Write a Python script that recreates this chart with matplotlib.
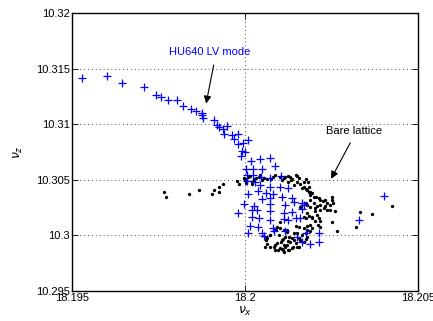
import matplotlib
matplotlib.use('Agg')
import matplotlib.pyplot as plt

plt.rcParams['font.family'] = ['Liberation Sans', 'DejaVu Sans']
plt.rcParams['mathtext.fontset'] = 'dejavusans'

# tunes with the HU640 undulator in LV mode (blue crosses)
hu640_nux = [18.19530, 18.19600, 18.19645, 18.19707, 18.19742, 18.19757, 18.19777, 18.19803,
             18.19820, 18.19844, 18.19859, 18.19875, 18.19877, 18.19880, 18.19909, 18.19919,
             18.19926, 18.19935, 18.19948, 18.19940, 18.19962, 18.19980, 18.19967, 18.19981,
             18.19994, 18.20009, 18.19991, 18.20001, 18.19989,
             18.20018, 18.20042, 18.20071, 18.20003, 18.20024, 18.20050, 18.20088, 18.20006,
             18.20022, 18.20047, 18.20071, 18.20105, 18.20006, 18.20028, 18.20044, 18.20073,
             18.20102, 18.20123, 18.20009, 18.20037, 18.20062, 18.20081, 18.20107, 18.20136,
             18.20050, 18.20071, 18.19996, 18.20025, 18.20073, 18.20117, 18.20141, 18.20165,
             18.20170, 18.19981, 18.20020, 18.20034, 18.20073, 18.20114, 18.20136, 18.20165,
             18.20020, 18.20041, 18.20073, 18.20112, 18.20123, 18.20146, 18.20160, 18.20015,
             18.20037, 18.20082, 18.20085, 18.20117, 18.20010, 18.20050, 18.20054, 18.20175,
             18.20213, 18.20151, 18.20189, 18.20213, 18.20165, 18.20402, 18.20329]
hu640_nuz = [10.31415, 10.31430, 10.31370, 10.31334, 10.31260, 10.31244, 10.31215, 10.31215,
             10.31167, 10.31140, 10.31119, 10.31101, 10.31080, 10.31059, 10.31041, 10.30990,
             10.30975, 10.30960, 10.30981, 10.30916, 10.30900, 10.30909, 10.30871, 10.30826,
             10.30831, 10.30855, 10.30759, 10.30750, 10.30712,
             10.30671, 10.30685, 10.30694, 10.30599, 10.30601, 10.30599, 10.30622, 10.30541,
             10.30545, 10.30529, 10.30514, 10.30532, 10.30487, 10.30482, 10.30451, 10.30437,
             10.30436, 10.30428, 10.30375, 10.30397, 10.30382, 10.30375, 10.30346, 10.30332,
             10.30330, 10.30332, 10.30280, 10.30267, 10.30280, 10.30271, 10.30301, 10.30287,
             10.30271, 10.30204, 10.30226, 10.30226, 10.30217, 10.30197, 10.30211, 10.30235,
             10.30164, 10.30152, 10.30141, 10.30143, 10.30137, 10.30152, 10.30157, 10.30083,
             10.30076, 10.30069, 10.30042, 10.30038, 10.30022, 10.30017, 10.29997, 10.30022,
             10.30022, 10.29986, 10.29925, 10.29942, 10.29942, 10.30355, 10.30137]

# bare lattice tunes (black dots)
bare_nux = [18.19766, 18.19773, 18.19838, 18.19867, 18.19904, 18.19909, 18.19925, 18.19925,
            18.19935, 18.19976, 18.19984, 18.19996, 18.20010, 18.20020, 18.20027, 18.20015,
            18.20025, 18.20020, 18.20039, 18.20044, 18.20054, 18.20063, 18.20075, 18.20088,
            18.20100, 18.20112, 18.20107, 18.20123, 18.20131, 18.20133, 18.20146, 18.20155,
            18.20150, 18.20160, 18.20170, 18.20177, 18.20182, 18.20186, 18.20179, 18.20170,
            18.20189, 18.20194, 18.20184, 18.20199, 18.20205, 18.20213, 18.20218, 18.20225,
            18.20232, 18.20237, 18.20247, 18.20252, 18.20252, 18.20254, 18.20261, 18.20230,
            18.20237, 18.20218, 18.20208, 18.20203, 18.20208, 18.20213, 18.20218, 18.20203,
            18.20211, 18.20247, 18.20252, 18.20228, 18.20184, 18.20175, 18.20160, 18.20175,
            18.20189, 18.20179, 18.20194, 18.20170, 18.20170, 18.20179, 18.20189, 18.20179,
            18.20216, 18.20155, 18.20146, 18.20266, 18.20175, 18.20150, 18.20141, 18.20121,
            18.20121, 18.20155, 18.20141, 18.20131, 18.20121, 18.20136, 18.20155, 18.20170,
            18.20146, 18.20126, 18.20179, 18.20117, 18.20110, 18.20105, 18.20124, 18.20136,
            18.20160, 18.20150, 18.20139, 18.20123, 18.20110, 18.20094, 18.20088, 18.20073,
            18.20063, 18.20061, 18.20059, 18.20071, 18.20083, 18.20092, 18.20102, 18.20097,
            18.20107, 18.20092, 18.20083, 18.20102, 18.20117, 18.20059, 18.20088, 18.20112,
            18.20126, 18.20063, 18.20073, 18.20090, 18.20102, 18.20112,
            18.20332, 18.20320, 18.20366, 18.20424,
            18.20000, 18.20032, 18.20050, 18.20082, 18.20117, 18.20137, 18.20151, 18.20125,
            18.20143, 18.20003, 18.20165, 18.20175, 18.20189, 18.20189, 18.20199, 18.20179,
            18.20203, 18.20218, 18.20194, 18.20187, 18.20194, 18.20165, 18.20175, 18.20107,
            18.20112]
bare_nuz = [10.30391, 10.30346, 10.30368, 10.30412, 10.30368, 10.30406, 10.30391, 10.30436,
            10.30466, 10.30490, 10.30465, 10.30514, 10.30529, 10.30484, 10.30499, 10.30537,
            10.30510, 10.30466, 10.30526, 10.30544, 10.30520, 10.30511, 10.30511, 10.30544,
            10.30529, 10.30514, 10.30499, 10.30538, 10.30529, 10.30502, 10.30544, 10.30520,
            10.30481, 10.30466, 10.30484, 10.30508, 10.30478, 10.30439, 10.30409, 10.30436,
            10.30394, 10.30379, 10.30391, 10.30349, 10.30341, 10.30334, 10.30319, 10.30305,
            10.30314, 10.30289, 10.30274, 10.30319, 10.30349, 10.30287, 10.30215, 10.30260,
            10.30229, 10.30229, 10.30260, 10.30215, 10.30184, 10.30154, 10.30125, 10.30125,
            10.30094, 10.30226, 10.30121, 10.30242, 10.30170, 10.30154, 10.30256, 10.30287,
            10.30256, 10.30197, 10.30166, 10.30166, 10.30065, 10.30049, 10.30035, 10.30083,
            10.30076, 10.30076, 10.30080, 10.30035, 10.30020, 10.30020, 10.30017, 10.30049,
            10.30031, 10.29975, 10.29959, 10.29945, 10.29914, 10.29885, 10.29894, 10.29945,
            10.29930, 10.29990, 10.29990, 10.29986, 10.29972, 10.29941, 10.29950, 10.29981,
            10.29957, 10.29896, 10.29896, 10.29873, 10.29867, 10.29873, 10.29912, 10.29896,
            10.29927, 10.29957, 10.29986, 10.30002, 10.30047, 10.30076, 10.30121, 10.30004,
            10.29959, 10.29930, 10.29900, 10.29885, 10.29900, 10.29900, 10.29869, 10.29855,
            10.29869, 10.29975, 10.30004, 10.30049, 10.30065, 10.30049,
            10.30206, 10.30071, 10.30190, 10.30265,
            10.30510, 10.30519, 10.30496, 10.30529, 10.30523, 10.30511, 10.30532, 10.30478,
            10.30451, 10.30469, 10.30427, 10.30421, 10.30361, 10.30316, 10.30287, 10.30271,
            10.30242, 10.30271, 10.30152, 10.30091, 10.30062, 10.30002, 10.29972, 10.29882,
            10.29912]

xticks = [18.195, 18.2, 18.205]
xticklabels = ['18.195', '18.2', '18.205']
yticks = [10.295, 10.3, 10.305, 10.31, 10.315, 10.32]
yticklabels = ['10.295', '10.3', '10.305', '10.31', '10.315', '10.32']

fig = plt.figure(figsize=(4.33, 3.21), dpi=100)
ax = fig.add_axes([0.1663, 0.0935, 0.7991, 0.866])

ax.plot(bare_nux, bare_nuz, 'o', color='k', markersize=2.4, markeredgewidth=0)
ax.plot(hu640_nux, hu640_nuz, '+', color='b', markersize=5.8, markeredgewidth=0.9)

ax.set_xlim(18.195, 18.205)
ax.set_ylim(10.295, 10.32)
ax.set_xticks(xticks)
ax.set_xticklabels(xticklabels)
ax.set_yticks(yticks)
ax.set_yticklabels(yticklabels)
ax.tick_params(direction='in', length=4, width=0.6, labelsize=8, top=True, right=True, pad=1.5)
ax.grid(True, linestyle=(0, (1, 3)), color='0.3', linewidth=0.7)
for s in ax.spines.values():
    s.set_linewidth(1.0)

ax.set_xlabel(r'$\nu_x$', fontsize=9, labelpad=1)
ax.set_ylabel(r'$\nu_z$', fontsize=9, labelpad=8)

ax.annotate('', xy=(18.19886, 10.31161), xytext=(18.19911, 10.31556),
            arrowprops=dict(arrowstyle='-|>', color='k', lw=0.8, mutation_scale=11))
ax.text(18.19899, 10.31646, 'HU640 LV mode', color='b', fontsize=8, ha='center', va='center')

ax.annotate('', xy=(18.20245, 10.30487), xytext=(18.20308, 10.30855),
            arrowprops=dict(arrowstyle='-|>', color='k', lw=0.8, mutation_scale=11))
ax.text(18.20314, 10.30936, 'Bare lattice', color='k', fontsize=8, ha='center', va='center')

fig.savefig('out.png', dpi=100)
